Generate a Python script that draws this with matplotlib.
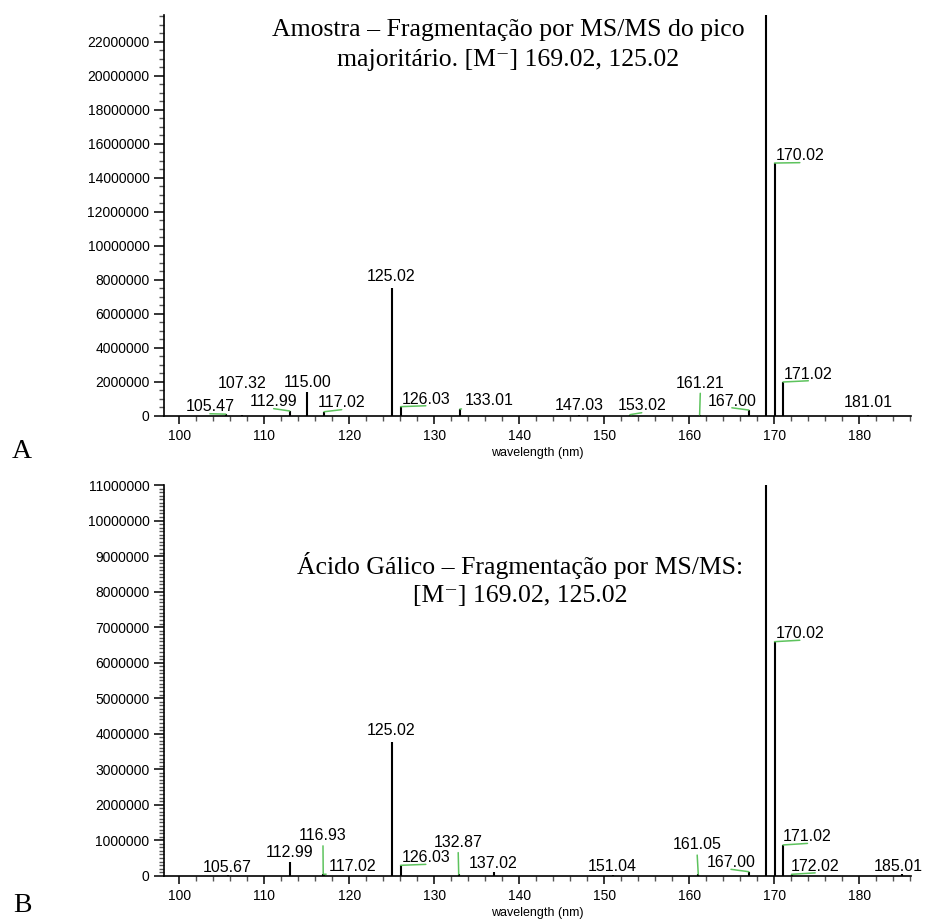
import matplotlib
matplotlib.use("Agg")
import matplotlib.pyplot as plt
from matplotlib.ticker import MultipleLocator, StrMethodFormatter

plt.rcParams["font.family"] = "Liberation Sans"

# Panel A - sample, MS/MS of the main peak
a_mz = [105.47, 107.32, 112.99, 115.00, 117.02, 125.02, 126.03, 133.01,
        147.03, 153.02, 161.21, 167.00, 169.02, 170.02, 171.02, 181.01]
a_int = [90000, 40000, 275000, 1410000, 230000, 7500000, 530000, 390000,
         40000, 60000, 50000, 330000, 30000000, 14860000, 1980000, 60000]
a_labels = ["105.47", "107.32", "112.99", "115.00", "117.02", "125.02", "126.03", "133.01",
            "147.03", "153.02", "161.21", "167.00", None, "170.02", "171.02", "181.01"]

# Panel B - gallic acid standard
b_mz = [105.67, 112.99, 116.93, 117.02, 125.02, 126.03, 132.87, 137.02,
        151.04, 161.05, 167.00, 169.02, 170.02, 171.02, 172.02, 185.01]
b_int = [30000, 378000, 50000, 40000, 3770000, 293000, 40000, 100000,
         30000, 40000, 113000, 20000000, 6590000, 866000, 40000, 40000]
b_labels = ["105.67", "112.99", "116.93", "117.02", "125.02", "126.03", "132.87", "137.02",
            "151.04", "161.05", "167.00", None, "170.02", "171.02", "172.02", "185.01"]

# label placement (text centre, data coords) and whether a leader line is drawn
a_label_pos = [(103.6, 510000), (107.4, 1920000), (111.1, 810000), (115.1, 1980000),
               (119.1, 750000), (124.9, 8160000), (129.0, 980000), (136.4, 880000),
               (147.0, 570000), (154.4, 570000), (161.3, 1920000), (165.0, 860000),
               None, (173.0, 15280000), (174.0, 2450000), (181.0, 750000)]
a_leader = [1, 0, 1, 0, 1, 0, 1, 1, 0, 1, 1, 1, 0, 1, 1, 0]
b_label_pos = [(105.6, 240000), (113.0, 640000), (116.9, 1130000), (120.4, 270000),
               (124.9, 4080000), (129.0, 510000), (132.8, 940000), (136.9, 350000),
               (150.9, 270000), (160.9, 870000), (164.9, 370000), None,
               (173.0, 6820000), (173.9, 1100000), (174.8, 270000), (184.6, 270000)]
b_leader = [0, 0, 1, 1, 0, 1, 1, 0, 0, 1, 1, 0, 1, 1, 1, 0]

title_a = "Amostra – Fragmentação por MS/MS do pico\nmajoritário. [M\u207b] 169.02, 125.02"
title_b = "Ácido Gálico – Fragmentação por MS/MS:\n[M\u207b] 169.02, 125.02"

GREEN = "#5dc35d"
SERIF = ["Liberation Serif", "DejaVu Serif"]

fig = plt.figure(figsize=(9.25, 9.19), dpi=100)
ax_a = fig.add_axes([0.1773, 0.5477, 0.8076, 0.4360])
ax_b = fig.add_axes([0.1773, 0.0471, 0.8076, 0.4251])


def draw_panel(ax, mz, inten, labels, label_pos, leader, ytop, ymajor, yminor):
    ax.vlines(mz, 0, inten, color="black", lw=1.5)
    for x, h, lbl, pos, lead in zip(mz, inten, labels, label_pos, leader):
        if lbl is None:
            continue
        if lead:
            ax.annotate(lbl, xy=(x, h), xytext=pos, ha="center", va="center",
                        fontsize=11.5, color="black",
                        arrowprops=dict(arrowstyle="-", color=GREEN, lw=1.1,
                                        shrinkA=0, shrinkB=0, relpos=(0.5, 0.05)))
        else:
            ax.text(pos[0], pos[1], lbl, ha="center", va="center", fontsize=11.5)

    ax.set_xlim(98.2, 186.08)
    ax.set_ylim(0, ytop)
    for s in ["top", "right"]:
        ax.spines[s].set_visible(False)
    ax.spines["left"].set_linewidth(1.2)
    ax.spines["bottom"].set_linewidth(1.2)

    ax.xaxis.set_major_locator(MultipleLocator(10))
    ax.xaxis.set_minor_locator(MultipleLocator(2))
    ax.yaxis.set_major_locator(MultipleLocator(ymajor))
    ax.yaxis.set_minor_locator(MultipleLocator(yminor))
    ax.yaxis.set_major_formatter(StrMethodFormatter("{x:.0f}"))
    ax.tick_params(which="major", direction="out", length=6, width=1.1, labelsize=10)
    ax.tick_params(which="minor", direction="out", length=3.5, width=1.0, color="#555555")
    ax.tick_params(axis="y", which="major", length=7)
    ax.set_xlabel("wavelength (nm)", fontsize=9, labelpad=3)


draw_panel(ax_a, a_mz, a_int, a_labels, a_label_pos, a_leader, 23570000, 2000000, 500000)
draw_panel(ax_b, b_mz, b_int, b_labels, b_label_pos, b_leader, 11000000, 1000000, 100000)

ax_a.text(0.4605, 0.925, title_a, transform=ax_a.transAxes, ha="center", va="center",
          family=SERIF, fontsize=18.5, linespacing=1.45)
ax_b.text(0.4766, 0.759, title_b, transform=ax_b.transAxes, ha="center", va="center",
          family=SERIF, fontsize=18.5, linespacing=1.35)

fig.text(22 / 925, 1 - 452 / 919, "A", family=SERIF, fontsize=20,
         ha="center", va="center")
fig.text(22 / 925, 1 - 905 / 919, "B", family=SERIF, fontsize=20,
         ha="center", va="center")

fig.savefig("out.png", dpi=100)
plt.close(fig)
